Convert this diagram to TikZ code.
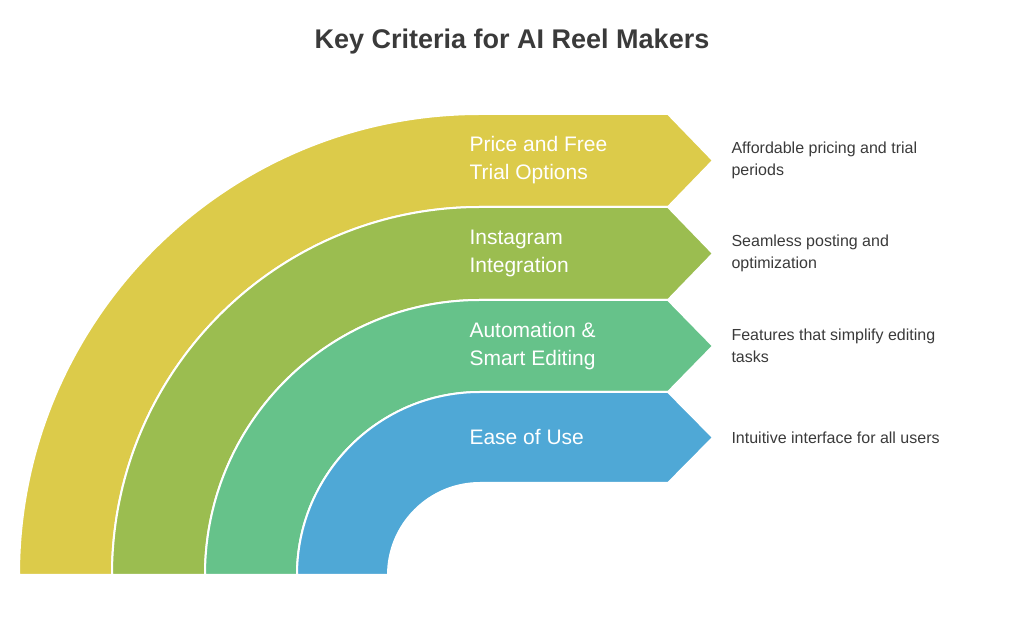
\documentclass[tikz,border=0pt]{standalone}
\usepackage{fontspec}
\setmainfont{Liberation Sans}
\definecolor{bandA}{HTML}{DCCB4A}
\definecolor{bandB}{HTML}{9BBD50}
\definecolor{bandC}{HTML}{66C28A}
\definecolor{bandD}{HTML}{4FA8D6}
\definecolor{ink}{HTML}{3A3A3A}
\tikzset{
  band/.style={draw=white, line width=2pt},
  bandlabel/.style={anchor=west, text=white, font=\fontsize{21}{28}\selectfont, align=left},
  desc/.style={anchor=west, text=ink, font=\fontsize{16}{22}\selectfont, align=left}
}
\begin{document}
\begin{tikzpicture}[x=1pt,y=1pt]
  \useasboundingbox (0,0) rectangle (1024,631);
  % title
  \node[font=\bfseries\fontsize{27}{32}\selectfont, text=ink] (title) at (512,589) {Key Criteria for AI Reel Makers};
  % bands, outside in
  \foreach \ri/\ro/\col/\lab/\txt [count=\i] in {
      368/461/bandA/{Price and Free\\Trial Options}/{Affordable pricing and trial\\periods},
      275/368/bandB/{Instagram\\Integration}/{Seamless posting and\\optimization},
      183/275/bandC/{Automation \&\\Smart Editing}/{Features that simplify editing\\tasks},
      92/183/bandD/{Ease of Use}/{Intuitive interface for all users}} {
    \pgfmathsetmacro{\mid}{56+(\ri+\ro)/2}
    \fill[\col, band] (480-\ro,56) arc[start angle=180, end angle=90, radius=\ro]
      -- (668,56+\ro) -- (713,\mid) -- (668,56+\ri) -- (480,56+\ri)
      arc[start angle=90, end angle=180, radius=\ri] -- cycle;
    \node[bandlabel] (lab\i) at (466,\mid) {\lab};
    \node[desc] (desc\i) at (728,\mid) {\txt};
  }
\end{tikzpicture}
\end{document}
